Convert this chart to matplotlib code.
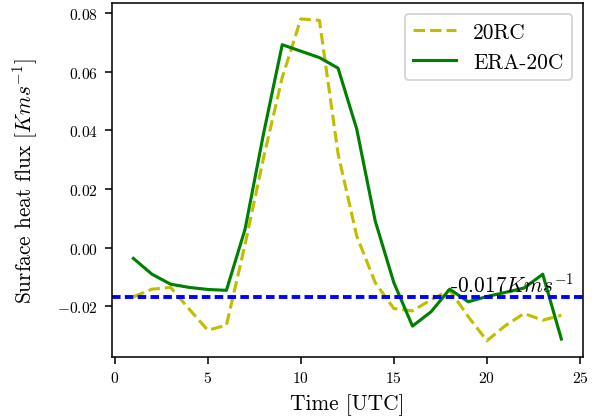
import numpy as np
import matplotlib
matplotlib.use('Agg')
import matplotlib.pyplot as plt

plt.rcParams['font.family'] = 'serif'
plt.rcParams['font.serif'] = ['cmr10']
plt.rcParams['mathtext.fontset'] = 'cm'
plt.rcParams['axes.formatter.use_mathtext'] = True

# hourly mean surface heat flux
hours = np.arange(1, 25)
flux_20rc = [-0.0168, -0.0142, -0.0136, -0.0210, -0.0282, -0.0265, 0.0010, 0.0307,
             0.0580, 0.0780, 0.0775, 0.0320, 0.0040, -0.0120, -0.0208, -0.0216,
             -0.0178, -0.0145, -0.0236, -0.0318, -0.0266, -0.0225, -0.0248, -0.0231]
flux_era20c = [-0.0037, -0.0091, -0.0125, -0.0136, -0.0143, -0.0146, 0.0062, 0.0390,
               0.0692, 0.0670, 0.0648, 0.0612, 0.0405, 0.0090, -0.0120, -0.0268,
               -0.0219, -0.0142, -0.0185, -0.0167, -0.0153, -0.0138, -0.0091, -0.0312]
mean_flux = -0.017

fig = plt.figure(figsize=(4.3, 3.007), dpi=140)
ax = fig.add_axes([0.186, 0.150, 0.782, 0.841])

ax.plot(hours, flux_20rc, '--', color='y', lw=1.6, label='20RC')
ax.plot(hours, flux_era20c, '-', color='g', lw=1.6, label='ERA-20C')
ax.axhline(mean_flux, color='b', ls='--', lw=2, dashes=(2.2, 1.1))
ax.text(18, mean_flux + 0.0019, '-0.017$Kms^{-1}$', fontsize=11)

ax.set_xlabel('Time [UTC]', fontsize=11)
ax.set_ylabel('Surface heat flux [$Kms^{-1}$]', fontsize=11, labelpad=9)
ax.tick_params(labelsize=8)
ax.legend(loc='upper right', fontsize=11)

fig.savefig('out.png', dpi=140)
